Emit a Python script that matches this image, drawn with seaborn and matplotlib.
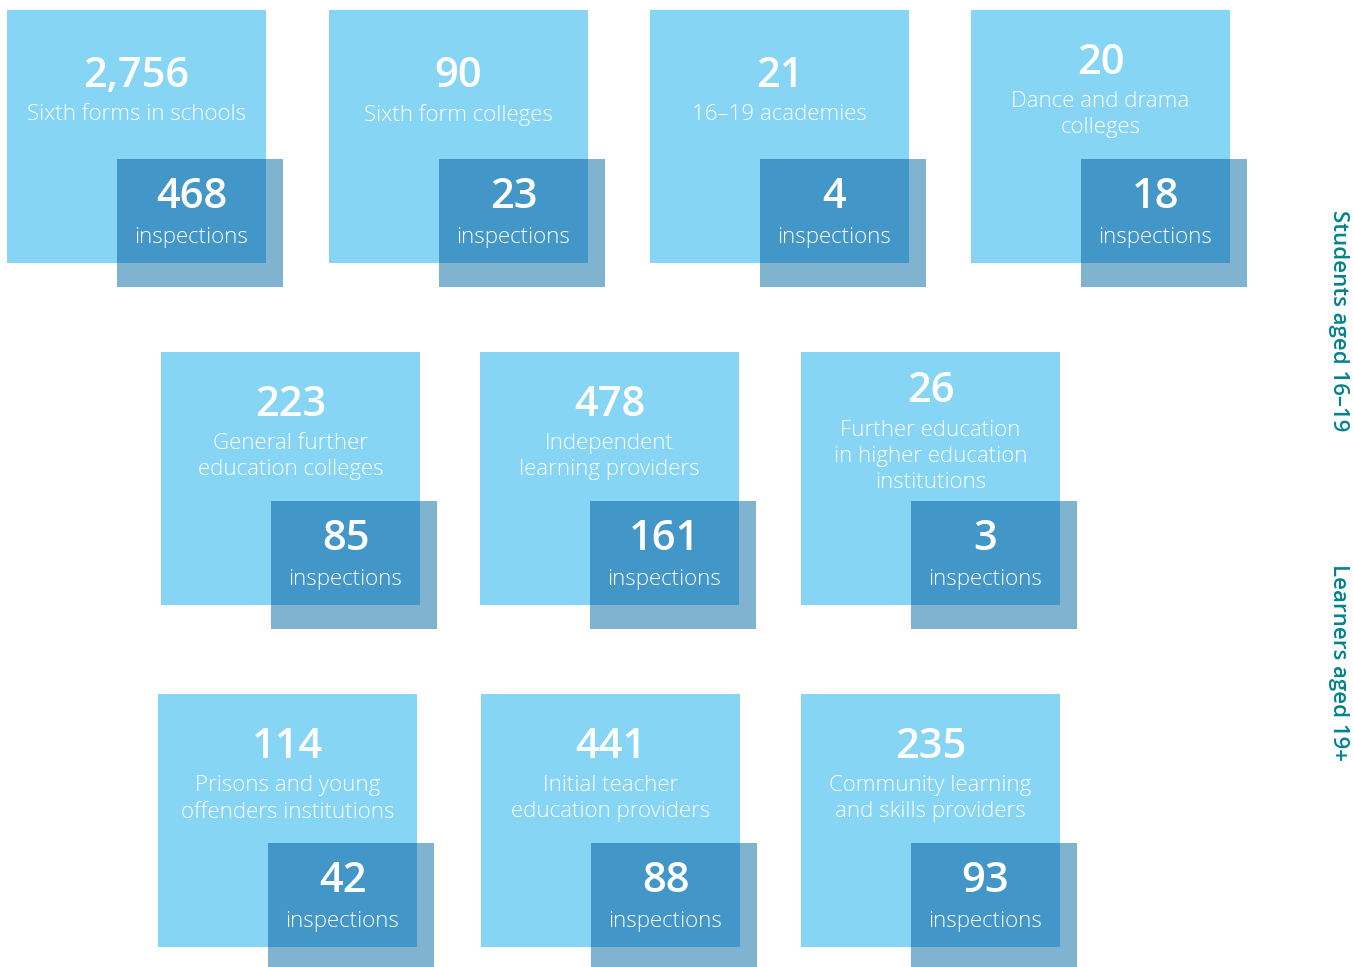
import matplotlib
matplotlib.use("Agg")
import matplotlib.pyplot as plt
from matplotlib.patches import Rectangle
import seaborn as sns

sns.set_theme(style="white")
plt.rcParams['font.family'] = ['Open Sans', 'DejaVu Sans']

# provider counts and inspection counts
totals = ['2,756', '90', '21', '20', '223', '478', '26', '114', '441', '235']
names = ['Sixth forms in schools', 'Sixth form colleges', '16\u201319 academies',
         'Dance and drama\ncolleges', 'General further\neducation colleges',
         'Independent\nlearning providers', 'Further education\nin higher education\ninstitutions',
         'Prisons and young\noffenders institutions', 'Initial teacher\neducation providers',
         'Community learning\nand skills providers']
inspections = ['468', '23', '4', '18', '85', '161', '3', '42', '88', '93']
side_labels = ['Students aged 16\u201319', 'Learners aged 19+']

# layout (pixels)
box_left = [7, 329, 650, 971, 161, 480, 801, 158, 481, 801]
box_top = [10, 10, 10, 10, 352, 352, 352, 694, 694, 694]
BW, BH = 259, 253
SDX, SDY, SW, SH = 110, 149, 166, 128

light = '#87d5f5'
mid = '#7fb3d0'
dark = '#4296c8'
teal = '#00838f'

fig = plt.figure(figsize=(13.53, 9.67), dpi=100)
ax = fig.add_axes([0, 0, 1, 1])
ax.set_xlim(0, 1353)
ax.set_ylim(967, 0)
ax.axis('off')

for i in range(len(totals)):
    x, y = box_left[i], box_top[i]
    ax.add_patch(Rectangle((x, y), BW, BH, color=light, lw=0))
    sx, sy = x + SDX, y + SDY
    ax.add_patch(Rectangle((sx, sy), SW, SH, color=mid, lw=0))
    ax.add_patch(Rectangle((sx, sy), x + BW - sx, y + BH - sy, color=dark, lw=0))

    nlines = names[i].count('\n') + 1
    ny = y + 66 - 13.5 * (nlines - 1)
    ax.text(x + BW / 2, ny, totals[i], ha='center', va='center', color='white',
            fontsize=30, fontweight='semibold')
    for k, line in enumerate(names[i].split('\n')):
        ax.text(x + BW / 2, ny + 39 + 26.5 * k, line, ha='center', va='center',
                color='white', fontsize=16, fontweight='light')

    cx = (sx + x + BW) / 2
    ax.text(cx, sy + 38, inspections[i], ha='center', va='center', color='white',
            fontsize=30, fontweight='semibold')
    ax.text(cx, sy + 79, 'inspections', ha='center', va='center', color='white',
            fontsize=16, fontweight='light')

for lab, yc in zip(side_labels, [321, 662]):
    ax.text(1338, yc, lab, rotation=-90, ha='center', va='center', color=teal,
            fontsize=16, fontweight='semibold')

fig.savefig('out.png', dpi=100)
